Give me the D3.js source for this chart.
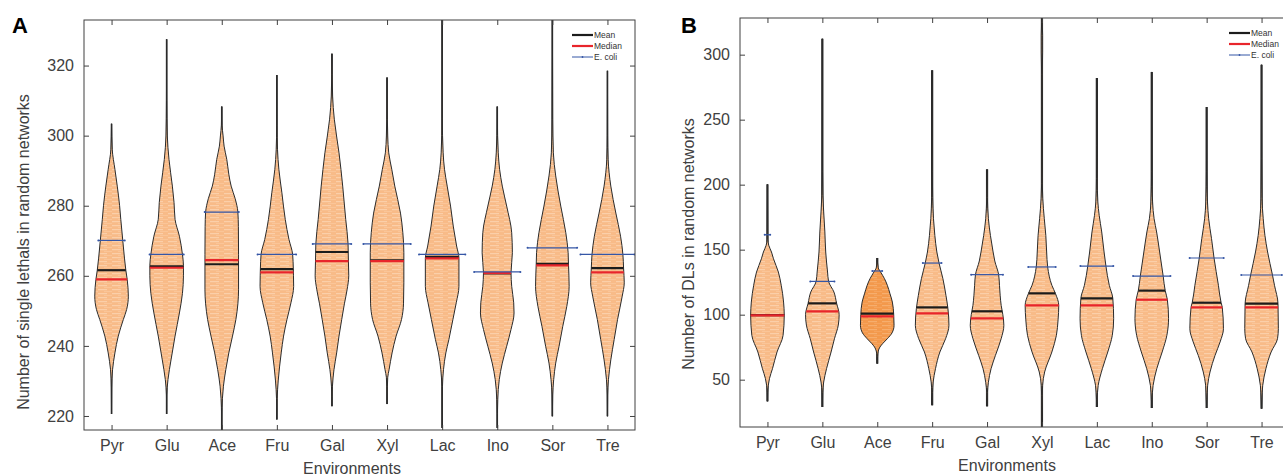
<!DOCTYPE html>
<html lang="en">
<head>
<meta charset="UTF-8">
<title>Random network violins</title>
<script src="https://cdn.jsdelivr.net/npm/d3@7"></script>
<style>
  body { margin: 0; background: #fff; }
  svg text { font-family: "Liberation Sans", Arial, sans-serif; }
</style>
</head>
<body>
<svg id="chart" width="1283" height="475"></svg>
<script>
const categories = ['Pyr', 'Glu', 'Ace', 'Fru', 'Gal', 'Xyl', 'Lac', 'Ino', 'Sor', 'Tre'];

// panel A: single lethals
const lethalTicks = [220, 240, 260, 280, 300, 320];
const lethalMean   = [261.6, 262.7, 263.3, 261.9, 266.8, 264.4, 265.4, 260.7, 263.4, 262.2];
const lethalMedian = [259.0, 262.3, 264.5, 261.0, 264.2, 264.2, 265.0, 260.8, 263.0, 261.0];
const lethalEcoli  = [270.1, 266.1, 278.2, 266.1, 269.1, 269.1, 266.1, 261.1, 268.0, 266.1];
const lethalEcoliSpan = [0.24, 0.31, 0.31, 0.35, 0.35, 0.43, 0.42, 0.42, 0.45, 0.49];
// [value, relative density]
const lethalDensity = [
  [[220.6,0],[228,0.01],[233.2,0.06],[238,0.2],[242.8,0.4],[247.5,0.7],[250.4,0.9],[254.2,1.0],[259,0.93],[261.6,0.85],[268.5,0.7],[276.1,0.55],[280,0.48],[285.6,0.34],[290.4,0.2],[296.1,0.04],[303.4,0]],
  [[220.6,0],[226,0.01],[230.4,0.08],[236,0.26],[242.8,0.5],[249.4,0.76],[255,0.94],[260,1.0],[263,1.0],[266.1,0.94],[271.3,0.76],[276.1,0.5],[280.9,0.44],[285.6,0.34],[293.2,0.14],[299.9,0.04],[310,0.01],[327.5,0]],
  [[212,0],[220,0.01],[225,0.04],[228.5,0.1],[233.2,0.24],[238,0.42],[242.8,0.64],[247.5,0.84],[252,0.96],[256,1.0],[266,1.0],[274,0.99],[278.2,0.96],[282,0.8],[285.6,0.56],[289,0.42],[293.2,0.3],[297,0.14],[299.9,0.08],[303,0.02],[308.3,0]],
  [[219,0],[225,0.02],[230,0.08],[234,0.16],[238,0.26],[242.8,0.4],[247.5,0.6],[252.3,0.84],[257,1.0],[260,0.99],[262,0.98],[266.1,0.94],[270.4,0.72],[276.1,0.5],[283.7,0.3],[290.4,0.12],[296,0.04],[303,0.01],[317.3,0]],
  [[222.8,0],[228.5,0.03],[233.2,0.12],[238,0.28],[242.8,0.42],[247.5,0.58],[252,0.74],[256,0.9],[260,1.0],[264.2,0.98],[269.1,0.96],[276.1,0.82],[285.6,0.64],[295.1,0.42],[304.7,0.14],[311.3,0.04],[323.4,0]],
  [[223.4,0],[228.5,0.02],[231,0.04],[233.2,0.12],[238,0.3],[242.8,0.54],[247.5,0.86],[252,0.98],[258,1.0],[266.6,1.0],[272.3,0.94],[277.9,0.8],[285.6,0.46],[290.4,0.28],[295.1,0.1],[299.9,0.04],[304.7,0.02],[316.6,0]],
  [[216.6,0],[228.5,0.02],[233.2,0.08],[238,0.22],[241.8,0.4],[247.5,0.64],[252.3,0.84],[257,1.0],[265,1.0],[268.5,0.86],[274.2,0.66],[279.9,0.5],[285.6,0.3],[290.4,0.14],[295.1,0.06],[305,0.01],[340,0]],
  [[216.6,0],[224.7,0.03],[230.4,0.12],[235.1,0.3],[239.9,0.56],[244.7,0.82],[249.4,1.0],[252.3,0.98],[257,0.86],[260.9,0.82],[266.6,0.9],[272.3,0.86],[279.9,0.56],[285.6,0.3],[290.4,0.14],[295.1,0.06],[300,0.02],[308.3,0]],
  [[219.9,0],[226,0.02],[230.4,0.08],[235.1,0.2],[239.9,0.4],[245.6,0.62],[251.3,0.86],[257,1.0],[263.4,0.96],[266.6,0.94],[272.3,0.8],[279.9,0.5],[288.5,0.2],[295.1,0.06],[304.7,0.02],[340,0]],
  [[219.9,0],[226,0.01],[230.4,0.06],[236,0.2],[241.8,0.4],[247.5,0.6],[254.2,0.88],[258,1.0],[262.2,0.96],[266.1,0.92],[271.3,0.78],[277.9,0.5],[285.6,0.2],[293.2,0.04],[300,0.01],[318.5,0]]
];

// panel B: double lethals
const dlTicks = [50, 100, 150, 200, 250, 300];
const dlMean   = [99.6, 108.7, 100.8, 105.6, 102.6, 116.4, 112.6, 118.5, 109.2, 108.5];
const dlMedian = [99.5, 102.6, 98.7, 101.0, 97.2, 107.2, 107.2, 111.5, 105.6, 105.6];
const dlEcoli  = [161.5, 125.6, 133.6, 139.7, 130.8, 136.7, 137.4, 129.7, 143.6, 130.5];
const dlEcoliSpan = [0.05, 0.22, 0.09, 0.17, 0.29, 0.25, 0.3, 0.34, 0.31, 0.37];
const dlDensity = [
  [[33.3,0],[40,0.01],[45.6,0.05],[50.8,0.12],[58.5,0.3],[71.3,0.57],[84.1,0.93],[99.5,1.0],[109.7,0.96],[122.6,0.82],[132.8,0.65],[143,0.36],[148.2,0.24],[153.3,0.08],[158,0.02],[200.3,0]],
  [[29,0],[40,0.02],[48.2,0.08],[58.5,0.25],[71.3,0.52],[81.5,0.72],[92,0.95],[100,1.0],[108.7,0.85],[117.4,0.69],[125.6,0.37],[132.8,0.31],[148.2,0.2],[163.6,0.15],[179,0.08],[191.8,0.03],[210,0.01],[312.3,0]],
  [[62.3,0],[68,0.02],[72,0.06],[75.1,0.16],[78,0.34],[81.5,0.6],[86,0.88],[91.8,1.0],[100,0.98],[109.7,0.9],[116,0.76],[122.6,0.6],[127.7,0.43],[132.8,0.2],[136,0.06],[143.6,0]],
  [[30.3,0],[40,0.02],[48.2,0.06],[58.5,0.2],[71.3,0.46],[81.5,0.8],[91.8,1.0],[104.6,0.94],[114.9,0.82],[127.7,0.64],[139.7,0.41],[148.2,0.28],[161,0.16],[173.8,0.08],[190,0.03],[210,0.01],[288,0]],
  [[29.5,0],[40,0.02],[48,0.08],[58.5,0.24],[68.7,0.5],[81.5,0.84],[91.8,1.0],[100,0.94],[107.2,0.84],[115,0.78],[122.6,0.74],[130.8,0.69],[141.3,0.46],[148.2,0.36],[161,0.2],[173.8,0.08],[190,0.02],[211.8,0]],
  [[0,0],[30,0.01],[45.6,0.04],[55.9,0.16],[71.3,0.59],[84.1,0.86],[96,0.96],[107.2,1.0],[116.4,0.8],[122.6,0.59],[136.7,0.34],[148.2,0.28],[161,0.23],[173.8,0.14],[189.2,0.05],[212.3,0.01],[260,0.01],[285,0.02],[302,0.04],[315,0.04],[325,0.02],[345,0]],
  [[29,0],[35,0.02],[45.6,0.08],[58.5,0.33],[71.3,0.65],[84.1,0.92],[96.9,1.0],[112.6,0.95],[122.6,0.74],[137.4,0.54],[148.2,0.43],[163.6,0.29],[176.4,0.14],[186.7,0.06],[204.6,0.02],[230,0.01],[282,0]],
  [[28.2,0],[35,0.02],[45.6,0.08],[58.5,0.3],[71.3,0.62],[84.1,0.9],[96.9,1.0],[111.5,0.93],[118.5,0.8],[129.7,0.68],[148.2,0.47],[163.6,0.29],[173.8,0.14],[186.7,0.05],[210,0.01],[286.7,0]],
  [[28.2,0],[35,0.02],[45.6,0.06],[55.9,0.2],[68.7,0.5],[79,0.8],[89.2,1.0],[105.6,0.93],[109.2,0.86],[122.6,0.7],[143.6,0.44],[158.5,0.29],[173.8,0.12],[186.7,0.05],[210,0.01],[259.7,0]],
  [[27.7,0],[35,0.02],[45.6,0.07],[58.5,0.26],[71.3,0.57],[81.5,0.95],[89.2,1.0],[108.5,0.98],[122.6,0.77],[130.5,0.65],[148.2,0.36],[161,0.2],[173.8,0.1],[189.2,0.03],[220,0.01],[292.3,0]]
];

const legendItems = ['Mean', 'Median', 'E. coli'];

const svg = d3.select('#chart');
const defs = svg.append('defs');

// faint horizontal streaks inside the violins
function stripes(id, base, light) {
  const p = defs.append('pattern')
      .attr('id', id)
      .attr('patternUnits', 'userSpaceOnUse')
      .attr('width', 14)
      .attr('height', 4);
  p.append('rect').attr('width', 14).attr('height', 4).attr('fill', base);
  p.append('rect').attr('x', 0).attr('y', 1).attr('width', 9).attr('height', 1.2)
      .attr('fill', light);
  p.append('rect').attr('x', 6).attr('y', 3).attr('width', 8).attr('height', 0.8)
      .attr('fill', light).attr('opacity', 0.6);
}
stripes('fillLight', '#f8bb88', '#fbcfa9');
stripes('fillDark', '#f3994c', '#f6ae6e');

const axisColor = '#404040';

function drawPanel(o) {
  const x = d3.scaleLinear().domain([0.5, 10.5]).range([o.left, o.right]);
  const y = d3.scaleLinear().domain(o.domain).range([o.bottom, o.top]);
  const hw = d3.scaleLinear().domain([0, 1]).range([0, 16.8]);

  defs.append('clipPath').attr('id', o.id + 'clip')
    .append('rect')
      .attr('x', o.left).attr('y', o.top)
      .attr('width', o.right - o.left).attr('height', o.bottom - o.top);

  const plot = svg.append('g').attr('clip-path', `url(#${o.id}clip)`);

  categories.forEach((c, i) => {
    const cx = x(i + 1);
    const dens = o.density[i].slice().reverse();
    const top = dens[0][0], bot = dens[dens.length - 1][0];

    plot.append('line')
        .attr('x1', cx).attr('x2', cx)
        .attr('y1', y(top)).attr('y2', y(bot))
        .attr('stroke', '#222').attr('stroke-width', o.whisker);

    const area = d3.area()
        .curve(d3.curveMonotoneY)
        .y(d => y(d[0]))
        .x0(d => cx - hw(d[1]))
        .x1(d => cx + hw(d[1]));

    plot.append('path')
        .attr('d', area(dens))
        .attr('fill', c === o.highlight ? 'url(#fillDark)' : 'url(#fillLight)')
        .attr('stroke', '#2b2b2b')
        .attr('stroke-width', 1);

    const widthAt = d3.scaleLinear()
        .domain(o.density[i].map(d => d[0]))
        .range(o.density[i].map(d => d[1]));

    const stat = (v, color) => {
      const h = hw(widthAt(v));
      plot.append('line')
          .attr('x1', cx - h).attr('x2', cx + h)
          .attr('y1', y(v)).attr('y2', y(v))
          .attr('stroke', color).attr('stroke-width', 2.2);
    };
    stat(o.mean[i], '#1c1c1c');
    stat(o.median[i], '#e8252b');

    const ex0 = x(i + 1 - o.ecoliSpan[i]), ex1 = x(i + 1 + o.ecoliSpan[i]);
    plot.append('line')
        .attr('x1', ex0).attr('x2', ex1)
        .attr('y1', y(o.ecoli[i])).attr('y2', y(o.ecoli[i]))
        .attr('stroke', '#3556a6').attr('stroke-width', 1.2);
    [ex0, ex1].forEach(ex => plot.append('circle')
        .attr('cx', ex).attr('cy', y(o.ecoli[i])).attr('r', 1)
        .attr('fill', '#3556a6'));
  });

  // box and ticks
  svg.append('rect')
      .attr('x', o.left).attr('y', o.top)
      .attr('width', o.right - o.left).attr('height', o.bottom - o.top)
      .attr('fill', 'none').attr('stroke', axisColor).attr('stroke-width', 1);

  const styleAxis = g => {
    g.select('.domain').remove();
    g.selectAll('line').attr('stroke', axisColor);
    g.selectAll('text')
        .attr('fill', axisColor)
        .attr('font-size', 16)
        .attr('font-family', '"Liberation Sans", Arial, sans-serif');
  };

  svg.append('g')
      .attr('transform', `translate(${o.left},0)`)
      .call(d3.axisLeft(y).tickValues(o.ticks).tickSize(-5).tickPadding(10))
      .call(styleAxis);
  svg.append('g')
      .attr('transform', `translate(${o.right},0)`)
      .call(d3.axisRight(y).tickValues(o.ticks).tickSize(-5).tickFormat(''))
      .call(styleAxis);
  svg.append('g')
      .attr('transform', `translate(0,${o.bottom})`)
      .call(d3.axisBottom(x).tickValues(d3.range(1, 11))
          .tickFormat(d => categories[d - 1]).tickSize(-5).tickPadding(10))
      .call(styleAxis);
  svg.append('g')
      .attr('transform', `translate(0,${o.top})`)
      .call(d3.axisTop(x).tickValues(d3.range(1, 11)).tickSize(-5).tickFormat(''))
      .call(styleAxis);

  // labels
  svg.append('text')
      .attr('x', (o.left + o.right) / 2 - 7.5)
      .attr('y', o.bottom + 43.5)
      .attr('text-anchor', 'middle')
      .attr('font-size', 16)
      .attr('fill', axisColor)
      .text('Environments');
  svg.append('text')
      .attr('transform', `translate(${o.ylabelX},${o.ylabelY}) rotate(-90)`)
      .attr('text-anchor', 'middle')
      .attr('font-size', 16)
      .attr('fill', axisColor)
      .text(o.ylabel);
  svg.append('text')
      .attr('x', o.letterX).attr('y', 33)
      .attr('font-size', 22).attr('font-weight', 'bold')
      .attr('fill', '#000')
      .text(o.letter);

  // legend
  const legendColors = ['#1c1c1c', '#e8252b', '#3556a6'];
  const legendWidths = [2.2, 2.2, 1];
  const lg = svg.append('g');
  legendItems.forEach((t, k) => {
    const ly = o.top + 15 + k * 11;
    lg.append('line')
        .attr('x1', o.legendX).attr('x2', o.legendX + 21)
        .attr('y1', ly).attr('y2', ly)
        .attr('stroke', legendColors[k]).attr('stroke-width', legendWidths[k]);
    lg.append('text')
        .attr('x', o.legendX + 22).attr('y', ly + 3)
        .attr('font-size', 8.5)
        .attr('fill', '#333')
        .text(t);
  });
  lg.append('circle').attr('cx', o.legendX + 10.5).attr('cy', o.top + 37)
      .attr('r', 0.9).attr('fill', '#3556a6');
}

drawPanel({
  id: 'A', letter: 'A', letterX: 12,
  left: 84, right: 635, top: 20, bottom: 430,
  domain: [216, 333], ticks: lethalTicks,
  density: lethalDensity, mean: lethalMean, median: lethalMedian,
  ecoli: lethalEcoli, ecoliSpan: lethalEcoliSpan,
  ylabel: 'Number of single lethals in random networks', ylabelX: 28.5, ylabelY: 252,
  legendX: 572, whisker: 1.6
});

drawPanel({
  id: 'B', letter: 'B', letterX: 681,
  left: 740, right: 1289, top: 18, bottom: 427,
  domain: [13.6, 328.2], ticks: dlTicks,
  density: dlDensity, mean: dlMean, median: dlMedian,
  ecoli: dlEcoli, ecoliSpan: dlEcoliSpan,
  highlight: 'Ace',
  ylabel: 'Number of DLs in random networks', ylabelX: 694, ylabelY: 244,
  legendX: 1229, whisker: 2.2
});
</script>
</body>
</html>
